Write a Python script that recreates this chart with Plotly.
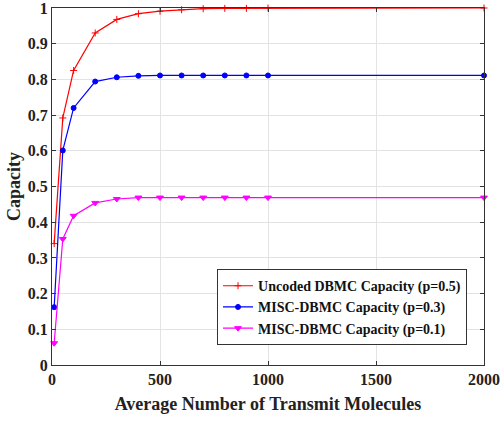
import plotly.graph_objects as go

x_vals = [10, 50, 100, 200, 300, 400, 500, 600, 700, 800, 900, 1000, 2000]
uncoded_p05 = [0.34, 0.692, 0.825, 0.93, 0.968, 0.984, 0.991, 0.995, 0.998, 0.999, 0.999, 1.0, 1.0]
misc_p03 = [0.162, 0.601, 0.72, 0.794, 0.806, 0.81, 0.811, 0.811, 0.811, 0.811, 0.811, 0.811, 0.811]
misc_p01 = [0.061, 0.353, 0.418, 0.454, 0.465, 0.469, 0.469, 0.469, 0.469, 0.469, 0.469, 0.469, 0.469]

names = ["Uncoded DBMC Capacity (p=0.5)", "MISC-DBMC Capacity (p=0.3)", "MISC-DBMC Capacity (p=0.1)"]
series = [uncoded_p05, misc_p03, misc_p01]
colors = ["#ff0000", "#0000ff", "#ff00ff"]
symbols = ["cross-thin", "circle", "triangle-down"]
sizes = [5, 5, 6]

font = "Liberation Serif, Times New Roman, Times, serif"

fig = go.Figure()
for n, ys, c, s, sz in zip(names, series, colors, symbols, sizes):
    fig.add_trace(go.Scatter(
        x=x_vals, y=ys, name="<b>" + n + "</b>", mode="lines+markers",
        line=dict(color=c, width=1.2),
        marker=dict(symbol=s, size=sz, color=c, line=dict(color=c, width=1)),
        cliponaxis=False,
    ))

axis_common = dict(
    showgrid=True, gridcolor="#e3e3e3", gridwidth=1,
    showline=True, linecolor="#333333", linewidth=1, mirror="ticks",
    ticks="inside", ticklen=4, tickcolor="#333333",
    zeroline=False, automargin=False, ticklabeloverflow="allow",
    tickfont=dict(family=font, size=16, color="#222222"),
)

fig.update_layout(
    width=500, height=421,
    margin=dict(l=52, r=16, t=8, b=56),
    paper_bgcolor="white", plot_bgcolor="white",
    font=dict(family=font),
    xaxis=dict(range=[0, 2000], tickvals=[0, 500, 1000, 1500, 2000],
               ticktext=["<b>0</b>", "<b>500</b>", "<b>1000</b>", "<b>1500</b>", "<b>2000</b>"],
               title=dict(text="<b>Average Number of Transmit Molecules</b>",
                          font=dict(family=font, size=18, color="#222222"), standoff=10),
               **axis_common),
    yaxis=dict(range=[0, 1], tickvals=[0, 0.1, 0.2, 0.3, 0.4, 0.5, 0.6, 0.7, 0.8, 0.9, 1],
               ticktext=["<b>" + t + "</b>" for t in ["0", "0.1", "0.2", "0.3", "0.4", "0.5", "0.6", "0.7", "0.8", "0.9", "1"]],
               title=dict(text="<b>Capacity</b>",
                          font=dict(family=font, size=18, color="#222222"), standoff=2),
               **axis_common),
    showlegend=True,
    legend=dict(x=0.382, y=0.2685, xanchor="left", yanchor="top",
                bgcolor="white", bordercolor="#333333", borderwidth=1,
                font=dict(family=font, size=14, color="#111111"),
                itemwidth=30, tracegroupgap=0),
)

fig.write_html("out.html", config={"displayModeBar": False},
               post_script="document.body.style.margin='0';")
